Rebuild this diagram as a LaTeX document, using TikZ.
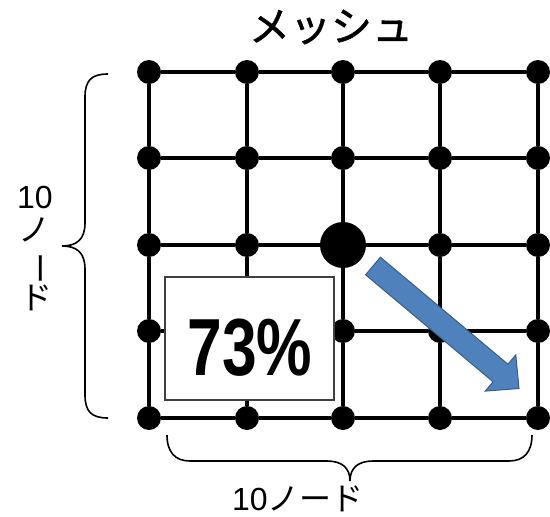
\documentclass[tikz,border=0pt]{standalone}
\usepackage{fontspec}
\setmainfont{Liberation Sans}
\newfontfamily\jp{Noto Sans CJK JP}
\newfontfamily\jpbold[FakeBold=1.2]{Noto Sans CJK JP}
\definecolor{arrfill}{HTML}{4F81BD}
\definecolor{arrline}{HTML}{385D8A}
\begin{document}
\begin{tikzpicture}[x=1pt,y=-1pt,
  dot/.style={circle,fill=black,inner sep=0pt,minimum size=24pt},
  bigdot/.style={circle,fill=black,inner sep=0pt,minimum size=46pt},
  edge/.style={line width=3.2pt},
  brace/.style={line width=1.6pt},
  lbl/.style={inner sep=0pt,font=\fontsize{32}{32}\selectfont},
  pctbox/.style={draw=black!75,line width=2pt,fill=white,inner sep=0pt,minimum width=169pt,minimum height=123pt}]
\useasboundingbox (0,0) rectangle (550,517);
% grid nodes
\foreach \i/\x in {1/149,2/247,3/343,4/440,5/538}{
  \foreach \j/\y in {1/72,2/158,3/245,4/331,5/418}{
    \ifnum\i\j=33
      \node[bigdot] (n\i\j) at (\x,\y) {};
    \else
      \node[dot] (n\i\j) at (\x,\y) {};
    \fi
  }
}
% edges
\foreach \i/\k in {1/2,2/3,3/4,4/5}{
  \foreach \j in {1,...,5}{
    \draw[edge] (n\i\j) -- (n\k\j);
    \draw[edge] (n\j\i) -- (n\j\k);
  }
}
% title
\node[font=\jpbold\fontsize{41}{41}\selectfont,inner sep=0pt] (title) at (331,27) {メッシュ};
% box
\node[pctbox] (box) at (249.5,338.5) {};
\node[inner sep=0pt,anchor=base,font=\fontsize{81}{81}\selectfont\bfseries] (pct) at (250,375) {\scalebox{0.77}[1]{73\%}};
% arrow
\draw[fill=arrfill,draw=arrline,line width=1pt,line join=miter]
  (380.4,257.2) -- (507.9,364.2) -- (515.8,354.9) -- (519,388.5) -- (485.2,391.1) -- (493.1,381.8) -- (365.6,274.8) -- cycle;
% left brace
\draw[brace] (108,74) .. controls (92,74) and (85,80) .. (85,97) -- (85,223)
  .. controls (85,240) and (76,246) .. (62,246)
  .. controls (76,246) and (85,252) .. (85,269) -- (85,395)
  .. controls (85,412) and (92,418) .. (108,418);
% bottom brace
\draw[brace] (167,435) .. controls (167,452) and (175,461) .. (190,461) -- (327,461)
  .. controls (342,461) and (350,468) .. (350,481)
  .. controls (350,468) and (358,461) .. (373,461) -- (509,461)
  .. controls (524,461) and (532,452) .. (532,435);
% labels
\node[lbl] (l10) at (35,197) {10};
\node[lbl,font=\jp\fontsize{32}{32}\selectfont] (lno) at (34,230) {ノ};
\node[lbl,font=\jp\fontsize{32}{32}\selectfont,rotate=-90] (lbar) at (35,268) {ー};
\node[lbl,font=\jp\fontsize{32}{32}\selectfont] (ldo) at (36,298) {ド};
\node[lbl] (b10) at (298,499) {10{\jp ノード}};
\end{tikzpicture}
\end{document}
